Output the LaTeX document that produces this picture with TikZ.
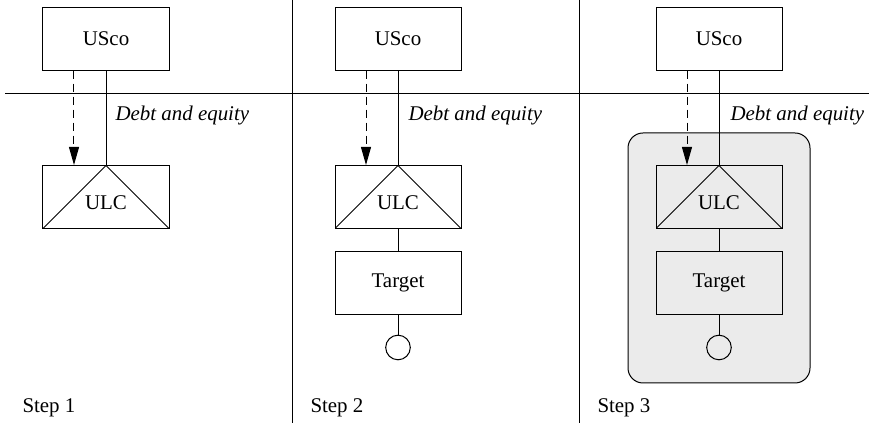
\documentclass[tikz,border=0pt]{standalone}
\usepackage{fontspec}
\setmainfont{Liberation Serif}
\usetikzlibrary{arrows.meta}

\begin{document}
\begin{tikzpicture}[x=0.5bp,y=-0.5bp,line width=0.5bp,
  font=\rmfamily\fontsize{10.5}{12}\selectfont,
  entity/.style={draw,minimum width=63bp,minimum height=31.5bp,inner sep=0pt},
  ulc/.style={entity,text height=13bp,text depth=0bp,
    path picture={\draw (path picture bounding box.south west)
      -- (path picture bounding box.north) -- (path picture bounding box.south east);}},
  hole/.style={draw,circle,minimum size=12.3bp,inner sep=0pt},
  funding/.style={dash pattern=on 4bp off 2.5bp,-{Triangle[length=9bp,width=5bp]}},
  debt/.style={font=\rmfamily\fontsize{10.5}{12}\selectfont\itshape,anchor=base west,inner sep=0pt},
  steplbl/.style={anchor=base west,inner sep=0pt}]
\useasboundingbox (0,0) rectangle (869,423);
\draw[rounded corners=7.5bp,fill=gray!16] (628,133) rectangle (810,383);
\draw (5,93.3) -- (869,93.3);
\draw (292.7,0) -- (292.7,423);
\draw (579.6,0) -- (579.6,423);
\node[entity] (usco1) at (106,38.7) {USco};
\node[ulc] (ulc1) at (106,197) {ULC};
\node[entity] (usco2) at (398,38.7) {USco};
\node[ulc] (ulc2) at (398,197) {ULC};
\node[entity] (target2) at (398,283) {Target};
\node[hole] (sub2) at (398,347.5) {};
\node[entity] (usco3) at (719,38.7) {USco};
\node[ulc] (ulc3) at (719,197) {ULC};
\node[entity] (target3) at (719,283) {Target};
\node[hole] (sub3) at (719,347.5) {};
\node[debt] (debt1) at (115,121) {Debt and equity};
\node[debt] (debt2) at (408,121) {Debt and equity};
\node[debt] (debt3) at (730,121) {Debt and equity};
\node[steplbl] (step1) at (22,413) {Step 1};
\node[steplbl] (step2) at (310,413) {Step 2};
\node[steplbl] (step3) at (597,413) {Step 3};
\draw (usco1) -- (ulc1);
\draw (usco2) -- (ulc2);
\draw (usco3) -- (ulc3);
\draw (ulc2) -- (target2);
\draw (ulc3) -- (target3);
\draw (target2) -- (sub2);
\draw (target3) -- (sub3);
\draw[funding] ([xshift=-16bp]usco1.south) -- ([xshift=-16bp]ulc1.north);
\draw[funding] ([xshift=-16bp]usco2.south) -- ([xshift=-16bp]ulc2.north);
\draw[funding] ([xshift=-16bp]usco3.south) -- ([xshift=-16bp]ulc3.north);
\end{tikzpicture}
\end{document}
